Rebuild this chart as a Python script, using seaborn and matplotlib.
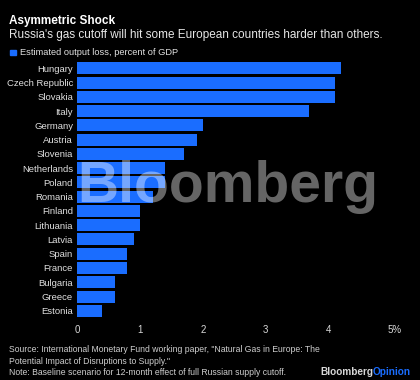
import matplotlib
matplotlib.use("Agg")
import matplotlib.pyplot as plt
import matplotlib.transforms as mtransforms
import seaborn as sns
import pandas as pd

countries = ["Hungary", "Czech Republic", "Slovakia", "Italy", "Germany", "Austria",
             "Slovenia", "Netherlands", "Poland", "Romania", "Finland", "Lithuania",
             "Latvia", "Spain", "France", "Bulgaria", "Greece", "Estonia"]
loss = [4.2, 4.1, 4.1, 3.7, 2.0, 1.9, 1.7, 1.4, 1.4, 1.2, 1.0, 1.0, 0.9, 0.8, 0.8, 0.6, 0.6, 0.4]
xticks = [0, 1, 2, 3, 4, 5]
xticklabels = ["0", "1", "2", "3", "4", "5%"]

df = pd.DataFrame({"country": countries, "loss": loss})

sns.set_theme(style="dark")
plt.rcParams["font.family"] = ["Liberation Sans", "DejaVu Sans"]

BLUE = "#1a6dff"
fig = plt.figure(figsize=(4.2, 3.8), dpi=100, facecolor="black")
ax = fig.add_axes([0.184, 0.1634, 0.931 - 0.184, 0.839 - 0.1634])
ax.set_facecolor("black")

sns.barplot(data=df, x="loss", y="country", color=BLUE, saturation=1, width=0.84,
            linewidth=0, edgecolor="none", ax=ax)

ax.set_xlim(0, 5)
ax.set_ylim(len(countries) - 0.5, -0.5)
ax.set_xticks(xticks)
ax.set_xticklabels(xticklabels)
ax.set_xlabel("")
ax.set_ylabel("")
ax.grid(False)
for s in ax.spines.values():
    s.set_visible(False)
ax.tick_params(axis="x", colors="#9a9a9a", labelcolor="#d8d8d8", labelsize=7,
               length=4, width=0.8, direction="in", pad=5)
ax.tick_params(axis="y", length=0, labelcolor="#e0e0e0", labelsize=6.8, pad=3)
last = ax.get_xticklabels()[-1]
last.set_transform(last.get_transform() + mtransforms.ScaledTranslation(3.5 / 100, 0, fig.dpi_scale_trans))

fig.text(0.021, 0.945, "Asymmetric Shock", color="white", fontsize=8.5, fontweight="bold",
         va="center", ha="left")
fig.text(0.021, 0.907, "Russia's gas cutoff will hit some European countries harder than others.",
         color="#e6e6e6", fontsize=8.45, va="center", ha="left")
fig.patches.append(plt.Rectangle((0.024, 0.854), 0.013, 0.014, transform=fig.transFigure,
                                 color=BLUE, figure=fig))
fig.text(0.048, 0.861, "Estimated output loss, percent of GDP", color="#e0e0e0",
         fontsize=6.7, va="center", ha="left")

fig.text(0.185, 1 - 202 / 380, "Bloomberg", color="white", alpha=0.4, fontsize=41,
         fontweight="bold", ha="left", va="baseline", zorder=10)

fig.text(0.021, 0.050, "Source: International Monetary Fund working paper, \"Natural Gas in Europe: The\n"
         "Potential Impact of Disruptions to Supply.\"\n"
         "Note: Baseline scenario for 12-month effect of full Russian supply cutoff.",
         color="#cfcfcf", fontsize=6.2, va="center", ha="left", linespacing=1.3)
t1 = fig.text(0.762, 0.021, "Bloomberg", color="#d8d8d8", fontsize=7.2, fontweight="bold",
              va="center", ha="left")
fig.canvas.draw()
bb = t1.get_window_extent()
fig.text(bb.x1 / fig.bbox.width - 0.002, 0.021, "Opinion", color=BLUE, fontsize=7.2,
         fontweight="bold", va="center", ha="left")

fig.savefig("out.png", dpi=100, facecolor="black")
